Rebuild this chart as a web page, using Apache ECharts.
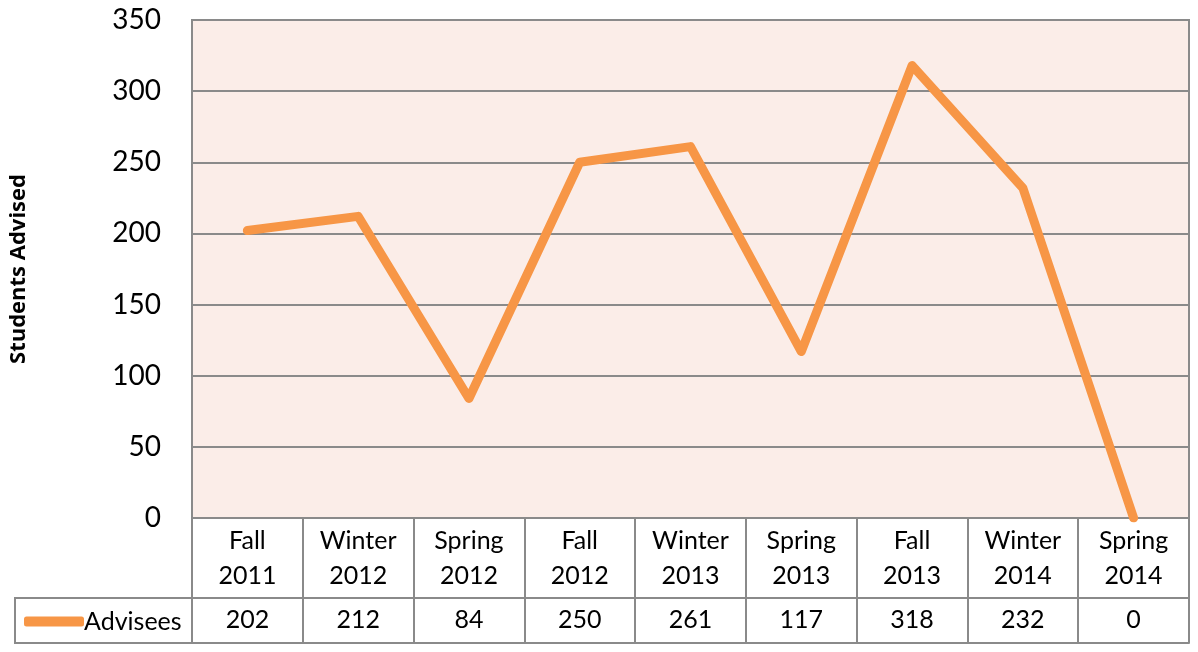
<!DOCTYPE html>
<html>
<head>
<meta charset="utf-8">
<script src="https://cdn.jsdelivr.net/npm/echarts@6/dist/echarts.min.js"></script>
<style>
  html, body { margin: 0; padding: 0; background: #fff; }
  #chart { width: 1198px; height: 652px; }
</style>
</head>
<body>
<div id="chart"></div>
<script>
// data
var terms = ['Fall\n2011', 'Winter\n2012', 'Spring\n2012', 'Fall\n2012', 'Winter\n2013',
             'Spring\n2013', 'Fall\n2013', 'Winter\n2014', 'Spring\n2014'];
var advisees = [202, 212, 84, 250, 261, 117, 318, 232, 0];
var seriesName = 'Advisees';

var gridColor = '#8a8a8a';
var font = 'Lato, "Open Sans", sans-serif';

var chart = echarts.init(document.getElementById('chart'));

chart.setOption({
    animation: false,
    textStyle: { fontFamily: font },
    grid: {
        left: 192, right: 9, top: 20, bottom: 134,
        show: true,
        backgroundColor: '#fbede8',
        borderColor: gridColor,
        borderWidth: 2
    },
    legend: {
        left: 19, top: 604,
        icon: 'roundRect',
        itemWidth: 60, itemHeight: 10,
        itemGap: 0,
        textStyle: { fontSize: 25, color: '#000', fontFamily: font, padding: [0, 0, 0, -5] },
        data: [seriesName]
    },
    graphic: [{
        type: 'rect',
        shape: { x: 15, y: 598, width: 177, height: 45 },
        style: { fill: 'none', stroke: gridColor, lineWidth: 2 },
        silent: true
    }],
    xAxis: [{
        type: 'category',
        data: terms,
        position: 'bottom',
        axisLine: { show: true, lineStyle: { color: gridColor, width: 2 } },
        axisTick: { show: true, interval: 0, length: 125, lineStyle: { color: gridColor, width: 2 } },
        axisLabel: {
            interval: 0, margin: 5, fontSize: 25, lineHeight: 35,
            color: '#000', verticalAlign: 'top'
        }
    }, {
        type: 'category',
        data: advisees.map(String),
        position: 'bottom',
        offset: 80,
        axisLine: { show: true, lineStyle: { color: gridColor, width: 2 } },
        axisTick: { show: false },
        axisLabel: {
            interval: 0, margin: 4, fontSize: 25, lineHeight: 35,
            color: '#000', verticalAlign: 'top'
        }
    }, {
        type: 'category',
        data: terms,
        position: 'bottom',
        offset: 125,
        axisLine: { show: true, lineStyle: { color: gridColor, width: 2 } },
        axisTick: { show: false },
        axisLabel: { show: false }
    }],
    yAxis: {
        type: 'value',
        min: 0, max: 350, interval: 50,
        name: 'Students Advised',
        nameLocation: 'middle',
        nameGap: 162,
        nameTextStyle: { fontSize: 22, fontWeight: 'bold', color: '#000', fontFamily: '"Open Sans", sans-serif' },
        axisLine: { show: true, lineStyle: { color: gridColor, width: 2 } },
        axisTick: { show: false },
        axisLabel: { fontSize: 28, color: '#000', margin: 31 },
        splitLine: { lineStyle: { color: gridColor, width: 2 } }
    },
    series: [{
        name: seriesName,
        type: 'line',
        data: advisees,
        symbol: 'none',
        itemStyle: { color: '#f79646' },
        lineStyle: { color: '#f79646', width: 9, cap: 'round', join: 'round' }
    }]
});
</script>
</body>
</html>
